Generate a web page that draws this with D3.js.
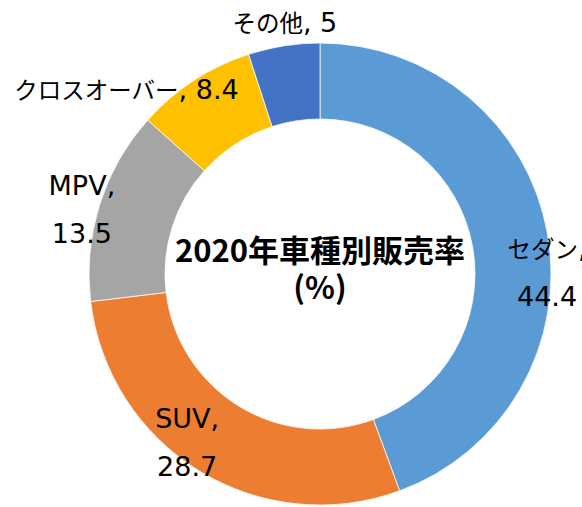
<!DOCTYPE html>
<html>
<head>
<meta charset="utf-8">
<script src="https://cdn.jsdelivr.net/npm/d3@7"></script>
<style>
  body { margin: 0; background: #fff; }
</style>
</head>
<body>
<svg id="chart" width="582" height="507"></svg>
<script>
// data
var categories = ["セダン", "SUV", "MPV", "クロスオーバー", "その他"];
var values = [44.4, 28.7, 13.5, 8.4, 5];
var valueLabels = ["44.4", "28.7", "13.5", "8.4", "5"];
var colors = ["#5b9bd5", "#ed7d31", "#a5a5a5", "#ffc000", "#4472c4"];
var titleLines = ["2020年車種別販売率", "(%)"];

// label placement relative to slice centroid; twoLine = value on a second row
var labelLayout = [
  { dx: 37, dy: 18, twoLine: true },
  { dx: -32, dy: -11, twoLine: true },
  { dx: -54, dy: -21, twoLine: true },
  { dx: -88, dy: -13, twoLine: false },
  { dx: -5, dy: -51, twoLine: false }
];

var width = 582, height = 507;
var cx = 320, cy = 274;
var outerR = 231, innerR = 155;

var svg = d3.select("#chart");
var g = svg.append("g").attr("transform", "translate(" + cx + "," + cy + ")");

var data = categories.map(function (c, i) {
  return { name: c, value: values[i], label: valueLabels[i], color: colors[i], layout: labelLayout[i] };
});

var pie = d3.pie().sort(null).value(function (d) { return d.value; });
var arc = d3.arc().innerRadius(innerR).outerRadius(outerR);
var labelArc = d3.arc().innerRadius(193).outerRadius(193);

var arcs = pie(data);

g.selectAll("path.slice")
  .data(arcs)
  .enter()
  .append("path")
  .attr("class", "slice")
  .attr("d", arc)
  .attr("fill", function (d) { return d.data.color; })
  .attr("stroke", "#fff")
  .attr("stroke-width", 0.75);

var latinFont = "'DejaVu Sans', Verdana, sans-serif";
var cjkFont = "'Noto Sans CJK JP', sans-serif";

var labels = g.selectAll("text.label")
  .data(arcs)
  .enter()
  .append("text")
  .attr("class", "label")
  .attr("text-anchor", "middle")
  .attr("fill", "#000")
  .attr("font-family", latinFont)
  .attr("font-size", 27)
  .attr("transform", function (d) {
    var c = labelArc.centroid(d);
    return "translate(" + (c[0] + d.data.layout.dx) + "," + (c[1] + d.data.layout.dy) + ")";
  });

labels.each(function (d) {
  var t = d3.select(this);
  var isCjk = /[^\x00-\x7f]/.test(d.data.name);
  t.append("tspan")
    .attr("x", 0)
    .attr("y", 0)
    .attr("font-family", isCjk ? cjkFont : latinFont)
    .attr("font-size", isCjk ? 23.5 : 27)
    .text(d.data.name);
  if (d.data.layout.twoLine) {
    t.append("tspan").text(",");
    t.append("tspan")
      .attr("x", 0)
      .attr("y", 48)
      .text(d.data.label);
  } else {
    t.append("tspan").text(", " + d.data.label);
  }
});

// centre title
g.selectAll("text.title")
  .data(titleLines)
  .enter()
  .append("text")
  .attr("class", "title")
  .attr("text-anchor", "middle")
  .attr("x", 0)
  .attr("y", function (d, i) { return -12 + i * 37; })
  .attr("font-family", cjkFont)
  .attr("font-weight", "bold")
  .attr("font-size", 31)
  .attr("fill", "#000")
  .text(function (d) { return d; });
</script>
</body>
</html>
